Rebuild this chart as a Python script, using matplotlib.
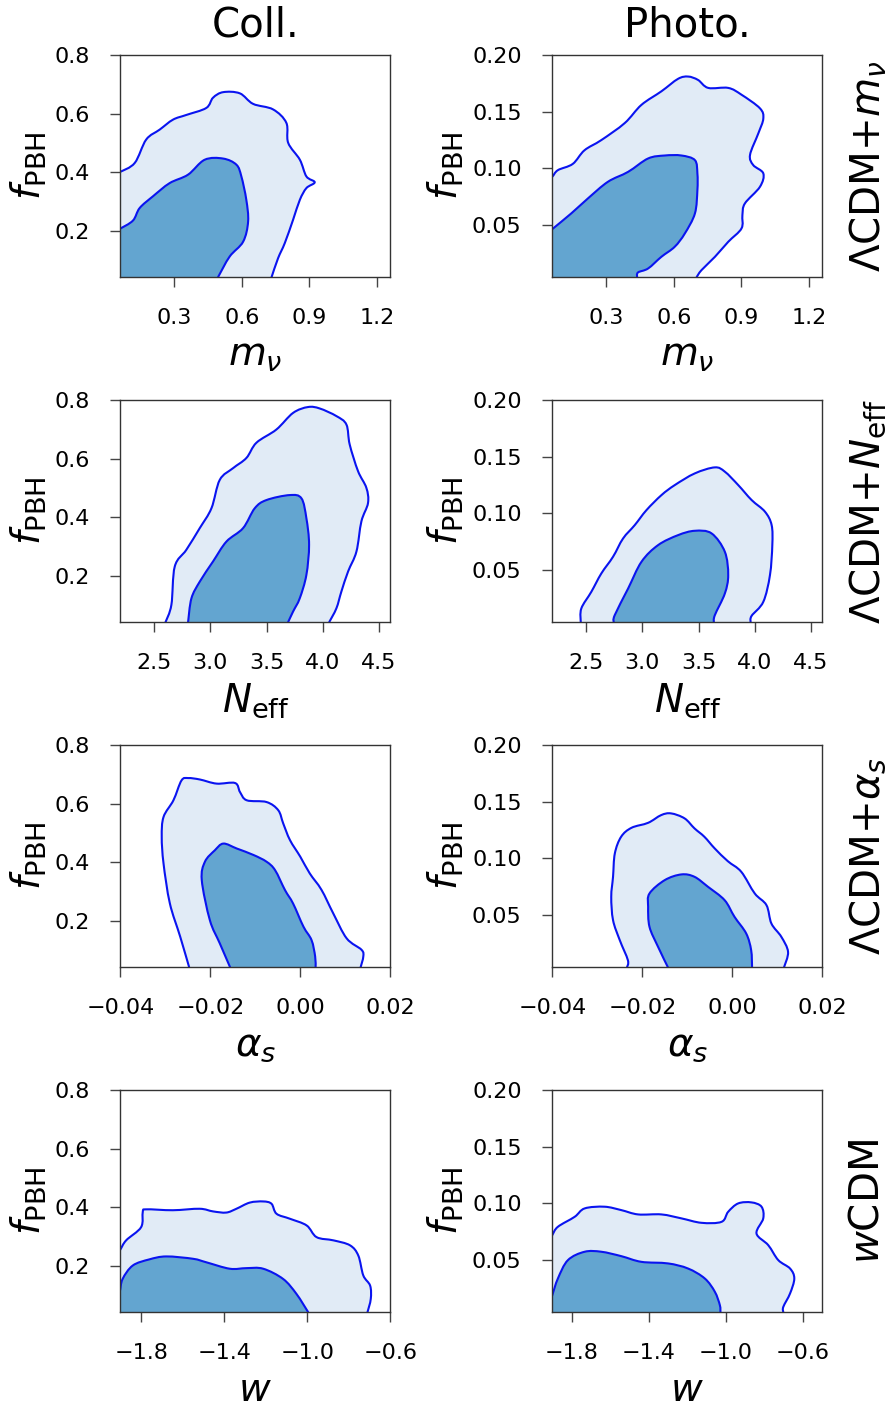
import matplotlib
matplotlib.use("Agg")
import matplotlib.pyplot as plt
from matplotlib.path import Path
from matplotlib.patches import PathPatch

plt.rcParams["font.family"] = ["DejaVu Sans"]
plt.rcParams["mathtext.fontset"] = "dejavusans"

# ---------------------------------------------------------------- labels
column_titles = ["Coll.", "Photo."]
row_labels = ["ΛCDM+$m_\\nu$", "ΛCDM+$N_{\\rm eff}$", "ΛCDM+$\\alpha_s$", "$w$CDM"]
x_labels = ["$m_\\nu$", "$N_{\\rm eff}$", "$\\alpha_s$", "$w$"]
y_label = "$f_{\\rm PBH}$"

# ---------------------------------------------------------------- axes ranges / ticks
mnu_xlim = (0.06, 1.26)
mnu_ticks = [0.3, 0.6, 0.9, 1.2]
neff_xlim = (2.2, 4.6)
neff_ticks = [2.5, 3.0, 3.5, 4.0, 4.5]
alphas_xlim = (-0.04, 0.02)
alphas_ticks = [-0.04, -0.02, 0.00, 0.02]
w_xlim_coll = (-1.9, -0.6)
w_xlim_photo = (-1.9, -0.5)
w_ticks = [-1.8, -1.4, -1.0, -0.6]
fpbh_ylim_coll = (0.04, 0.80)
fpbh_ticks_coll = [0.2, 0.4, 0.6, 0.8]
fpbh_ylim_photo = (0.004, 0.20)
fpbh_ticks_photo = [0.05, 0.10, 0.15, 0.20]

# ---------------------------------------------------------------- contour boundaries
# (68% inner and 95% outer credible regions of the 2D marginalised posteriors)

# m_nu, collinear
mnu_coll_outer_x = [0.04, 0.058, 0.124, 0.175, 0.235, 0.294, 0.353, 0.442, 0.472, 0.517, 0.591,
                    0.650, 0.739, 0.798, 0.806, 0.858, 0.887, 0.924, 0.887, 0.858, 0.828, 0.791,
                    0.761, 0.732]
mnu_coll_outer_y = [0.395, 0.400, 0.431, 0.511, 0.545, 0.579, 0.595, 0.619, 0.654, 0.673, 0.669,
                    0.633, 0.614, 0.568, 0.500, 0.442, 0.385, 0.365, 0.345, 0.305, 0.237, 0.157,
                    0.105, 0.040]
mnu_coll_inner_x = [0.04, 0.058, 0.116, 0.146, 0.205, 0.279, 0.361, 0.435, 0.517, 0.576, 0.598,
                    0.620, 0.628, 0.606, 0.546, 0.494]
mnu_coll_inner_y = [0.200, 0.206, 0.234, 0.277, 0.317, 0.362, 0.391, 0.442, 0.446, 0.425, 0.385,
                    0.305, 0.231, 0.162, 0.111, 0.040]

# m_nu, photometric
mnu_photo_outer_x = [0.04, 0.060, 0.085, 0.151, 0.203, 0.278, 0.382, 0.456, 0.545, 0.619, 0.664,
                     0.708, 0.753, 0.842, 0.901, 0.983, 0.998, 0.976, 0.939, 0.953, 0.998, 0.983,
                     0.916, 0.905, 0.901, 0.842, 0.783, 0.723, 0.701]
mnu_photo_outer_y = [0.090, 0.0927, 0.0985, 0.104, 0.116, 0.125, 0.140, 0.156, 0.168, 0.179, 0.181,
                     0.178, 0.171, 0.171, 0.165, 0.153, 0.144, 0.131, 0.112, 0.103, 0.0956, 0.0838,
                     0.0691, 0.0588, 0.0471, 0.0353, 0.0221, 0.0103, 0.004]
mnu_photo_inner_x = [0.04, 0.060, 0.144, 0.218, 0.307, 0.397, 0.486, 0.560, 0.634, 0.694, 0.705,
                     0.705, 0.694, 0.649, 0.604, 0.545, 0.486, 0.441, 0.437]
mnu_photo_inner_y = [0.043, 0.0465, 0.0603, 0.0735, 0.0882, 0.0970, 0.1088, 0.1114, 0.1114, 0.1073,
                     0.0956, 0.0809, 0.0603, 0.0426, 0.0309, 0.0221, 0.0118, 0.0083, 0.004]

# N_eff, collinear
neff_coll_outer_x = [2.601, 2.654, 2.684, 2.787, 2.906, 3.010, 3.084, 3.202, 3.321, 3.410, 3.587,
                     3.736, 3.869, 3.973, 4.121, 4.210, 4.239, 4.313, 4.387, 4.402, 4.343, 4.299,
                     4.225, 4.165, 4.121, 4.056]
neff_coll_outer_y = [0.040, 0.100, 0.231, 0.288, 0.362, 0.430, 0.527, 0.567, 0.602, 0.654, 0.699,
                     0.756, 0.776, 0.771, 0.745, 0.716, 0.648, 0.557, 0.500, 0.448, 0.385, 0.282,
                     0.214, 0.145, 0.088, 0.040]
neff_coll_inner_x = [2.802, 2.832, 2.906, 3.024, 3.143, 3.291, 3.395, 3.499, 3.706, 3.810, 3.854,
                     3.878, 3.854, 3.795, 3.736, 3.691]
neff_coll_inner_y = [0.040, 0.122, 0.179, 0.248, 0.316, 0.362, 0.430, 0.458, 0.475, 0.464, 0.396,
                     0.305, 0.202, 0.122, 0.077, 0.040]

# N_eff, photometric
neff_photo_outer_x = [2.453, 2.458, 2.547, 2.636, 2.740, 2.829, 2.933, 3.037, 3.171, 3.289, 3.467,
                      3.645, 3.734, 3.853, 3.972, 4.091, 4.150, 4.156, 4.135, 4.076, 3.972, 3.963]
neff_photo_outer_y = [0.004, 0.0162, 0.0309, 0.0471, 0.0618, 0.0779, 0.0897, 0.1029, 0.1162, 0.125,
                      0.1353, 0.1406, 0.1368, 0.125, 0.1118, 0.1015, 0.0897, 0.0721, 0.0456, 0.0221,
                      0.0097, 0.004]
neff_photo_inner_x = [2.746, 2.755, 2.874, 2.993, 3.141, 3.319, 3.467, 3.616, 3.734, 3.764, 3.734,
                      3.645, 3.636]
neff_photo_inner_y = [0.004, 0.0103, 0.0338, 0.0574, 0.0721, 0.0809, 0.0847, 0.0824, 0.0662, 0.0456,
                      0.0294, 0.0103, 0.004]

# alpha_s, collinear
alphas_coll_outer_x = [-0.0247, -0.0267, -0.0290, -0.0304, -0.0308, -0.0304, -0.0282, -0.0264,
                       -0.0249, -0.0223, -0.0186, -0.0145, -0.0134, -0.0119, -0.0075, -0.0049,
                       -0.0038, -0.0023, 0.0000, 0.0021, 0.0047, 0.0073, 0.0103, 0.0136, 0.0140,
                       0.0134]
alphas_coll_outer_y = [0.040, 0.145, 0.259, 0.395, 0.486, 0.554, 0.611, 0.679, 0.687, 0.682, 0.668,
                       0.670, 0.639, 0.611, 0.605, 0.577, 0.532, 0.475, 0.418, 0.361, 0.305, 0.225,
                       0.139, 0.100, 0.077, 0.040]
alphas_coll_inner_x = [-0.0156, -0.0179, -0.0201, -0.0219, -0.0212, -0.0190, -0.0171, -0.0141,
                       -0.0104, -0.0075, -0.0056, -0.0034, -0.0016, 0.0007, 0.0025, 0.0033, 0.0034]
alphas_coll_inner_y = [0.040, 0.122, 0.201, 0.338, 0.401, 0.440, 0.463, 0.446, 0.424, 0.401, 0.372,
                       0.304, 0.258, 0.179, 0.133, 0.077, 0.040]

# alpha_s, photometric
alphas_photo_outer_x = [-0.0234, -0.0232, -0.0250, -0.0265, -0.0269, -0.0265, -0.0261, -0.0247,
                        -0.0224, -0.0187, -0.0158, -0.0136, -0.0106, -0.0084, -0.0062, -0.0039,
                        -0.0010, 0.0020, 0.0050, 0.0076, 0.0087, 0.0109, 0.0124, 0.0115]
alphas_photo_outer_y = [0.004, 0.0103, 0.0279, 0.0456, 0.0662, 0.0838, 0.1044, 0.1191, 0.1270,
                        0.1314, 0.1382, 0.1397, 0.1353, 0.1265, 0.1191, 0.1088, 0.0976, 0.0882,
                        0.0691, 0.0588, 0.0426, 0.0309, 0.0176, 0.004]
alphas_photo_inner_x = [-0.0143, -0.0165, -0.0184, -0.0187, -0.0184, -0.0150, -0.0113, -0.0084,
                        -0.0054, -0.0017, 0.0005, 0.0031, 0.0042, 0.0044]
alphas_photo_inner_y = [0.004, 0.0221, 0.0397, 0.0574, 0.0691, 0.0809, 0.0859, 0.0838, 0.0750,
                        0.0632, 0.0485, 0.0338, 0.0191, 0.004]

# w, collinear
w_coll_outer_x = [-1.95, -1.903, -1.872, -1.800, -1.792, -1.776, -1.647, -1.518, -1.454, -1.390,
                  -1.341, -1.277, -1.212, -1.172, -1.148, -1.084, -1.003, -0.955, -0.874, -0.794,
                  -0.754, -0.730, -0.697, -0.694, -0.710]
w_coll_outer_y = [0.200, 0.251, 0.286, 0.331, 0.383, 0.392, 0.389, 0.394, 0.385, 0.381, 0.394,
                  0.415, 0.419, 0.411, 0.377, 0.360, 0.337, 0.297, 0.286, 0.269, 0.234, 0.166,
                  0.131, 0.086, 0.040]
w_coll_inner_x = [-1.92, -1.903, -1.889, -1.840, -1.760, -1.679, -1.550, -1.486, -1.373, -1.293,
                  -1.212, -1.116, -1.052, -0.995]
w_coll_inner_y = [0.080, 0.110, 0.154, 0.200, 0.221, 0.231, 0.223, 0.211, 0.189, 0.191, 0.189,
                  0.154, 0.103, 0.040]

# w, photometric
w_photo_outer_x = [-1.92, -1.900, -1.871, -1.784, -1.732, -1.629, -1.542, -1.455, -1.334, -1.230,
                   -1.126, -1.022, -0.988, -0.936, -0.867, -0.815, -0.806, -0.841, -0.780, -0.728,
                   -0.667, -0.645, -0.667, -0.702, -0.702]
w_photo_outer_y = [0.066, 0.0721, 0.0794, 0.0882, 0.0956, 0.0971, 0.0941, 0.0903, 0.0903, 0.0868,
                   0.0829, 0.0838, 0.0926, 0.1000, 0.1009, 0.0971, 0.0868, 0.0735, 0.0632, 0.0500,
                   0.0426, 0.0338, 0.0206, 0.0088, 0.004]
w_photo_inner_x = [-1.92, -1.900, -1.871, -1.819, -1.732, -1.646, -1.542, -1.438, -1.300, -1.196,
                   -1.109, -1.057, -1.031, -1.028]
w_photo_inner_y = [0.008, 0.0191, 0.0338, 0.0500, 0.0574, 0.0574, 0.0535, 0.0485, 0.0471, 0.0426,
                   0.0338, 0.0221, 0.0103, 0.004]

# ---------------------------------------------------------------- style
outer_face = "#e1ebf6"
inner_face = "#63a5d0"
edge_color = "#0a14f0"
edge_width = 1.5
tick_size = 16
label_size = 28
title_size = 29

fig = plt.figure(figsize=(8.96, 14.07), dpi=100)

col_left = [0.1343, 0.6164]
col_width = 0.3013
row_bottom = [0.8029, 0.5577, 0.3125, 0.0673]
row_height = 0.158

panels = [
    [(mnu_xlim, mnu_ticks, mnu_coll_outer_x, mnu_coll_outer_y, mnu_coll_inner_x, mnu_coll_inner_y),
     (mnu_xlim, mnu_ticks, mnu_photo_outer_x, mnu_photo_outer_y, mnu_photo_inner_x, mnu_photo_inner_y)],
    [(neff_xlim, neff_ticks, neff_coll_outer_x, neff_coll_outer_y, neff_coll_inner_x, neff_coll_inner_y),
     (neff_xlim, neff_ticks, neff_photo_outer_x, neff_photo_outer_y, neff_photo_inner_x, neff_photo_inner_y)],
    [(alphas_xlim, alphas_ticks, alphas_coll_outer_x, alphas_coll_outer_y, alphas_coll_inner_x, alphas_coll_inner_y),
     (alphas_xlim, alphas_ticks, alphas_photo_outer_x, alphas_photo_outer_y, alphas_photo_inner_x, alphas_photo_inner_y)],
    [(w_xlim_coll, w_ticks, w_coll_outer_x, w_coll_outer_y, w_coll_inner_x, w_coll_inner_y),
     (w_xlim_photo, w_ticks, w_photo_outer_x, w_photo_outer_y, w_photo_inner_x, w_photo_inner_y)],
]
y_settings = [(fpbh_ylim_coll, fpbh_ticks_coll), (fpbh_ylim_photo, fpbh_ticks_photo)]


def smooth_border(xs, ys):
    """Cubic Bezier segments through the boundary vertices (Catmull-Rom tangents)."""
    pts = list(zip(xs, ys))
    n = len(pts)
    verts = [pts[0]]
    codes = [Path.MOVETO]
    for i in range(n - 1):
        p0 = pts[i - 1] if i > 0 else pts[i]
        p1 = pts[i]
        p2 = pts[i + 1]
        p3 = pts[i + 2] if i + 2 < n else pts[i + 1]
        c1 = (p1[0] + (p2[0] - p0[0]) / 6.0, p1[1] + (p2[1] - p0[1]) / 6.0)
        c2 = (p2[0] - (p3[0] - p1[0]) / 6.0, p2[1] - (p3[1] - p1[1]) / 6.0)
        verts += [c1, c2, p2]
        codes += [Path.CURVE4] * 3
    return verts, codes


def draw_region(ax, xs, ys, face):
    """Fill a credible region that is open towards the bottom/left edge of the frame."""
    y0, y1 = ax.get_ylim()
    below = y0 - (y1 - y0)
    verts, codes = smooth_border(xs, ys)
    verts = verts + [(xs[-1], below), (xs[0], below), verts[0]]
    codes = codes + [Path.LINETO, Path.LINETO, Path.CLOSEPOLY]
    ax.add_patch(PathPatch(Path(verts, codes), facecolor=face, edgecolor="none", zorder=1))


def draw_border(ax, xs, ys):
    verts, codes = smooth_border(xs, ys)
    ax.add_patch(PathPatch(Path(verts, codes), facecolor="none", edgecolor=edge_color,
                           lw=edge_width, capstyle="butt", joinstyle="round", zorder=2))


for r in range(4):
    for c in range(2):
        xlim, xticks, ox, oy, ix, iy = panels[r][c]
        ylim, yticks = y_settings[c]
        ax = fig.add_axes([col_left[c], row_bottom[r], col_width, row_height])
        ax.set_xlim(*xlim)
        ax.set_ylim(*ylim)
        ax.set_xticks(xticks)
        ax.set_yticks(yticks)

        draw_region(ax, ox, oy, outer_face)
        draw_region(ax, ix, iy, inner_face)
        draw_border(ax, ox, oy)
        draw_border(ax, ix, iy)
        ax.set_xlim(*xlim)
        ax.set_ylim(*ylim)

        for sp in ax.spines.values():
            sp.set_color("#333333")
            sp.set_linewidth(1.0)
            sp.set_zorder(3)
        ax.tick_params(axis="both", direction="out", length=7.5, width=1.0,
                       color="#444444", labelsize=tick_size, pad=14.5)

        ax.set_xlabel(x_labels[r], fontsize=label_size, labelpad=6)
        ax.set_ylabel(y_label, fontsize=label_size, labelpad=4)

        if r == 0:
            ax.set_title(column_titles[c], fontsize=title_size, pad=13)
        if c == 1:
            ax.text(1.095, 0.5, row_labels[r], transform=ax.transAxes, rotation=90,
                    ha="left", va="center", fontsize=title_size)

fig.savefig("out.png", dpi=100)
